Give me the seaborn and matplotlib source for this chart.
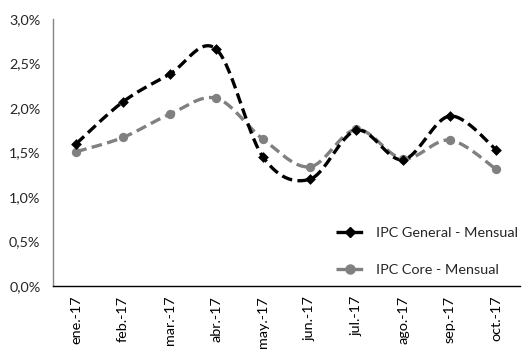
import numpy as np
import pandas as pd
import matplotlib
matplotlib.use("Agg")
import matplotlib.pyplot as plt
from matplotlib.lines import Line2D
from matplotlib.ticker import FuncFormatter, MultipleLocator, FixedLocator
import seaborn as sns

months = ["ene.-17", "feb.-17", "mar.-17", "abr.-17", "may.-17",
          "jun.-17", "jul.-17", "ago.-17", "sep.-17", "oct.-17"]
ipc_general = [1.60, 2.07, 2.38, 2.66, 1.45, 1.20, 1.75, 1.42, 1.91, 1.53]
ipc_core = [1.51, 1.67, 1.93, 2.11, 1.65, 1.34, 1.76, 1.43, 1.64, 1.31]

sns.set_style("white")
plt.rcParams["font.family"] = ["Lato", "DejaVu Sans"]
FS = 10.4


def smooth(xs, ys, n=30):
    # Excel-like smoothed line: cubic Bezier with Catmull-Rom control points
    xs = np.asarray(xs, float)
    ys = np.asarray(ys, float)
    P = np.column_stack([xs, ys])
    out = []
    for i in range(len(P) - 1):
        p0 = P[i - 1] if i > 0 else P[i]
        p1 = P[i]
        p2 = P[i + 1]
        p3 = P[i + 2] if i + 2 < len(P) else P[i + 1]
        c1 = p1 + (p2 - p0) / 6.0
        c2 = p2 - (p3 - p1) / 6.0
        t = np.linspace(0, 1, n)[:, None]
        seg = ((1 - t) ** 3) * p1 + 3 * ((1 - t) ** 2) * t * c1 + 3 * (1 - t) * t ** 2 * c2 + t ** 3 * p2
        out.append(seg if i == 0 else seg[1:])
    out = np.vstack(out)
    return out[:, 0], out[:, 1]


fig = plt.figure(figsize=(5.24, 3.59), dpi=100)
ax = fig.add_axes([0.101, 0.203, 0.891, 0.744])

x = np.arange(len(months))
df = pd.DataFrame({"x": x, "general": ipc_general, "core": ipc_core})

gx, gy = smooth(x, ipc_general)
cx, cy = smooth(x, ipc_core)
sns.lineplot(x=cx, y=cy, ax=ax, color="#808080", linewidth=2.4, sort=False)
sns.lineplot(x=gx, y=gy, ax=ax, color="black", linewidth=2.4, sort=False)
for l in ax.lines:
    l.set_dashes([3.2, 1.6])
sns.scatterplot(data=df, x="x", y="core", ax=ax, color="#808080", marker="o",
                s=45, edgecolor="#808080", linewidth=0, zorder=3)
sns.scatterplot(data=df, x="x", y="general", ax=ax, color="black", marker="D",
                s=30, edgecolor="black", linewidth=0, zorder=4)

ax.set_xlim(-0.5, len(months) - 0.5)
ax.set_ylim(0, 3.0)
ax.yaxis.set_major_locator(MultipleLocator(0.5))
ax.yaxis.set_major_formatter(FuncFormatter(lambda v, p: f"{v:.1f}%".replace(".", ",")))
ax.xaxis.set_major_locator(FixedLocator(np.arange(-0.5, len(months), 1.0)))
ax.xaxis.set_major_formatter(FuncFormatter(lambda v, p: ""))
ax.xaxis.set_minor_locator(FixedLocator(x))
ax.set_xticklabels(months, minor=True, rotation=90)
ax.tick_params(axis="x", which="minor", length=0, pad=7, labelsize=FS, colors="black")
ax.tick_params(axis="x", which="major", length=5, width=1, direction="out", color="black")
ax.tick_params(axis="y", length=5, width=1, direction="out", color="#868686", labelsize=FS, pad=4)
ax.set_xlabel("")
ax.set_ylabel("")

for s in ["top", "right"]:
    ax.spines[s].set_visible(False)
ax.spines["left"].set_color("#868686")
ax.spines["bottom"].set_color("black")
ax.spines["left"].set_linewidth(1)
ax.spines["bottom"].set_linewidth(1)

handles = [
    Line2D([], [], color="black", linewidth=2.4, dashes=[3.2, 1.6], marker="D", markersize=5),
    Line2D([], [], color="#808080", linewidth=2.4, dashes=[3.2, 1.6], marker="o", markersize=6.5),
]
ax.legend(handles, ["IPC General - Mensual", "IPC Core - Mensual"], loc="lower right",
          bbox_to_anchor=(1.025, -0.01), frameon=False, fontsize=FS, labelspacing=1.7,
          handlelength=2.0, handletextpad=0.8)

fig.savefig("out.png", dpi=100, facecolor="white")
